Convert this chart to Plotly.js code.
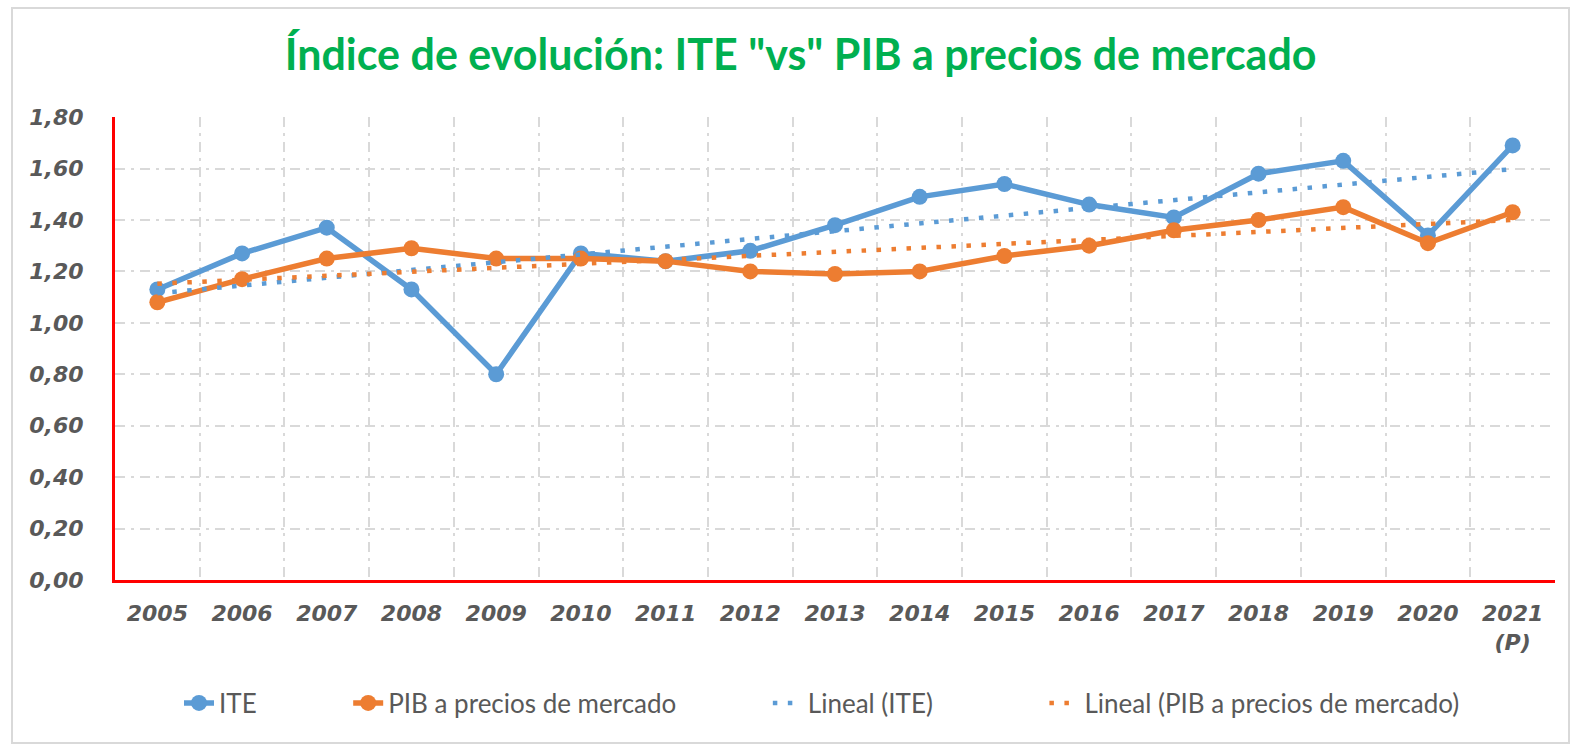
<!DOCTYPE html>
<html>
<head>
<meta charset="utf-8">
<script src="https://cdn.plot.ly/plotly-3.0.1.min.js"></script>
<style>html,body{margin:0;padding:0;background:#fff;}#chart{width:1573px;height:744px;}</style>
</head>
<body>
<div id="chart"></div>
<script>
const years = ['2005','2006','2007','2008','2009','2010','2011','2012','2013','2014','2015','2016','2017','2018','2019','2020','2021'];
const tickLabels = ['2005','2006','2007','2008','2009','2010','2011','2012','2013','2014','2015','2016','2017','2018','2019','2020','2021<br>(P)'];
const seriesNames = ['ITE', 'PIB a precios de mercado', 'Lineal (ITE)', 'Lineal (PIB a precios de mercado)'];
const ite = [1.13, 1.27, 1.37, 1.13, 0.80, 1.27, 1.24, 1.28, 1.38, 1.49, 1.54, 1.46, 1.41, 1.58, 1.63, 1.34, 1.69];
const pib = [1.08, 1.17, 1.25, 1.29, 1.25, 1.25, 1.24, 1.20, 1.19, 1.20, 1.26, 1.30, 1.36, 1.40, 1.45, 1.31, 1.43];
const trendYears = ['2005', '2021'];
const iteTrend = [1.115, 1.598];
const pibTrend = [1.152, 1.400];

const BLUE = '#5B9BD5', ORANGE = '#ED7D31';
// trailing non-breaking spaces widen legend entries (Excel draws longer legend keys)
const pad = n => '\u00a0'.repeat(n);

const traces = [
  {x: years, y: ite, name: seriesNames[0] + pad(13), type: 'scatter', mode: 'lines+markers',
   line: {color: BLUE, width: 5.5}, marker: {color: BLUE, size: 16}},
  {x: years, y: pib, name: seriesNames[1] + pad(13), type: 'scatter', mode: 'lines+markers',
   line: {color: ORANGE, width: 5.5}, marker: {color: ORANGE, size: 16}},
  {x: trendYears, y: iteTrend, name: seriesNames[2] + pad(16), type: 'scatter', mode: 'lines',
   line: {color: BLUE, width: 4.5, dash: '4.5px,10.5px'}},
  {x: trendYears, y: pibTrend, name: seriesNames[3], type: 'scatter', mode: 'lines',
   line: {color: ORANGE, width: 4.5, dash: '4.5px,10.5px'}}
];

const tickFont = {family: 'DejaVu Sans', size: 22, color: '#595959', weight: 'bold', style: 'italic'};

const layout = {
  width: 1573, height: 744,
  margin: {l: 115, r: 18, t: 117, b: 164},
  paper_bgcolor: '#ffffff', plot_bgcolor: '#ffffff',
  separators: ',.',
  showlegend: true,
  title: {
    text: '<b>Índice de evolución: ITE "vs" PIB a precios de mercado</b>',
    font: {family: 'Lato', size: 43, color: '#00B050'},
    x: 0.509, xanchor: 'center', xref: 'container',
    y: 1 - 55/744, yanchor: 'middle', yref: 'container'
  },
  xaxis: {
    type: 'category',
    categoryorder: 'array', categoryarray: years,
    range: [-0.5, years.length - 0.5], autorange: false,
    tickvals: years, ticktext: tickLabels,
    tickson: 'boundaries',
    showgrid: true, gridcolor: '#D9D9D9', gridwidth: 2, griddash: '10px,6px,3px,6px',
    showline: true, linecolor: '#FF0000', linewidth: 3,
    ticks: '', ticklabelstandoff: 12,
    tickfont: tickFont,
    zeroline: false, fixedrange: true
  },
  yaxis: {
    range: [0, 1.8005], autorange: false,
    tickvals: [0, 0.2, 0.4, 0.6, 0.8, 1.0, 1.2, 1.4, 1.6, 1.8],
    tickformat: '.2f',
    showgrid: true, gridcolor: '#D9D9D9', gridwidth: 2, griddash: '10px,6px,3px,6px',
    showline: true, linecolor: '#FF0000', linewidth: 3,
    ticks: '', ticklabelstandoff: 24,
    tickfont: tickFont,
    zeroline: false, fixedrange: true
  },
  legend: {
    orientation: 'h',
    x: (179 - 115) / 1440, xanchor: 'left',
    y: (580 - 703) / 463, yanchor: 'middle',
    font: {family: 'Lato', size: 26, color: '#595959'},
    bgcolor: 'rgba(0,0,0,0)'
  },
  shapes: [
    {type: 'rect', xref: 'paper', yref: 'paper',
     x0: (12 - 115) / 1440, x1: (1569 - 115) / 1440,
     y0: (580 - 743) / 463, y1: (580 - 8) / 463,
     line: {color: '#D9D9D9', width: 2}, fillcolor: 'rgba(0,0,0,0)', layer: 'below'}
  ]
};

Plotly.newPlot('chart', traces, layout, {displayModeBar: false, staticPlot: true});
</script>
</body>
</html>
